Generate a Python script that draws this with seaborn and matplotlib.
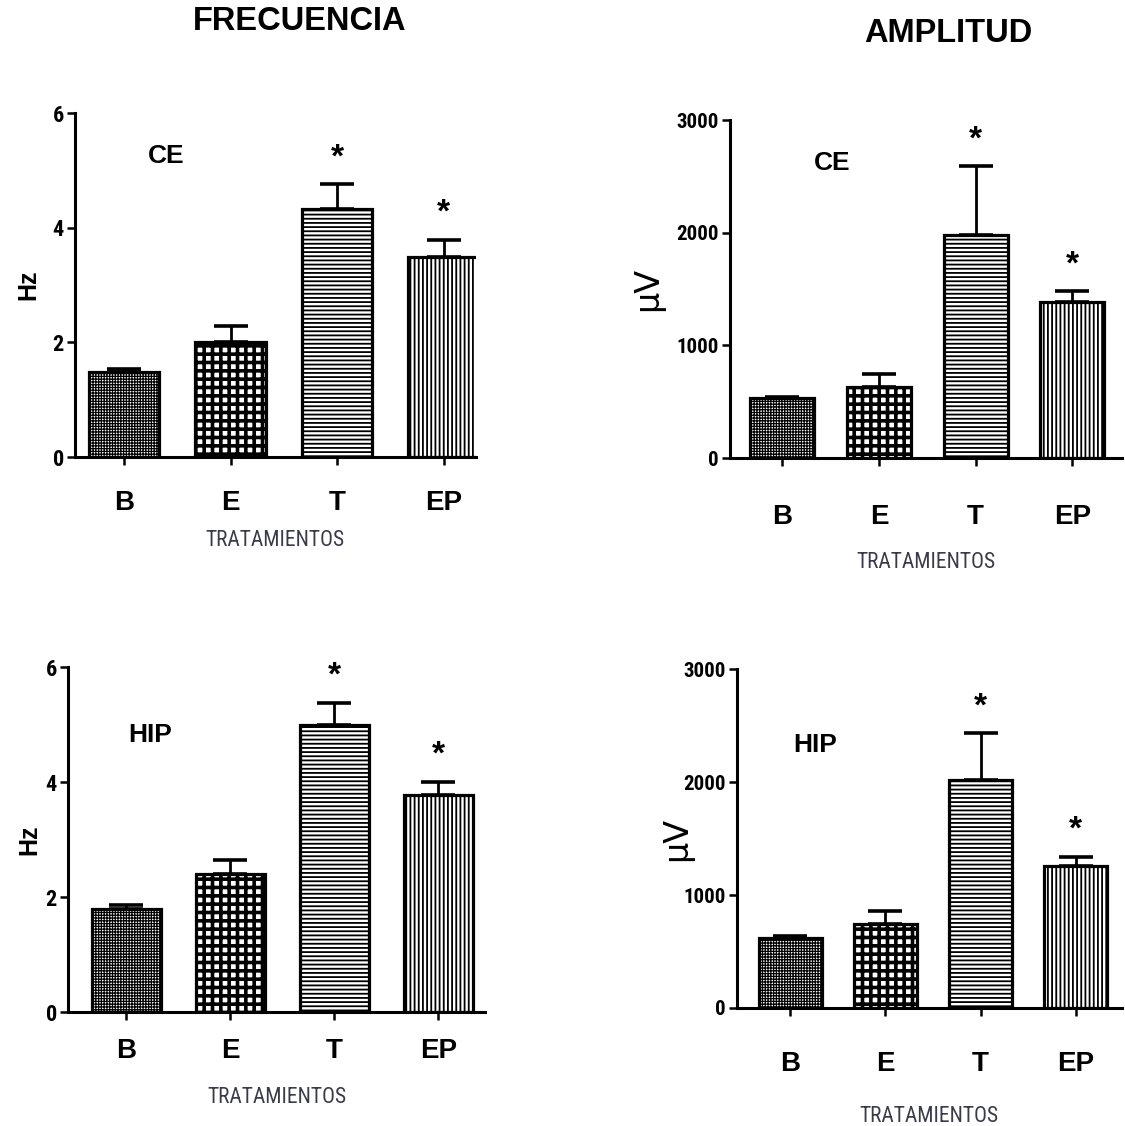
import matplotlib
matplotlib.use("Agg")
import matplotlib.pyplot as plt
from matplotlib import font_manager
import seaborn as sns
import pandas as pd

# ---------------- data ----------------
categories = ["B", "E", "T", "EP"]

freq_ce = [1.48, 2.00, 4.33, 3.49]
freq_ce_err = [0.06, 0.28, 0.43, 0.30]

freq_hip = [1.80, 2.40, 5.00, 3.78]
freq_hip_err = [0.07, 0.25, 0.38, 0.22]

amp_ce = [530, 630, 1980, 1385]
amp_ce_err = [15, 120, 610, 95]

amp_hip = [620, 740, 2015, 1260]
amp_hip_err = [20, 120, 415, 80]

significant = [False, False, True, True]

freq_ticks = [0, 2, 4, 6]
amp_ticks = [0, 1000, 2000, 3000]

# ---------------- style ----------------
sns.set_theme(style="ticks", rc={"text.color": "black", "axes.labelcolor": "black",
                                 "xtick.color": "black", "ytick.color": "black",
                                 "axes.edgecolor": "black"})
avail = {f.name for f in font_manager.fontManager.ttflist}
sans = "Liberation Sans" if "Liberation Sans" in avail else "DejaVu Sans"
narrow = sans
for cand in ["Liberation Sans Narrow", "Roboto Condensed", "DejaVu Sans Condensed",
             "Open Sans Condensed", "Noto Sans Condensed"]:
    if cand in avail:
        narrow = cand
        break
plt.rcParams["font.family"] = [sans, "DejaVu Sans"]
plt.rcParams["hatch.color"] = "black"
plt.rcParams["hatch.linewidth"] = 1.2

hatches = ["++++++", "++", "----", "||||"]
hatch_lw = [0.9, 2.6, 1.3, 1.3]

fig = plt.figure(figsize=(11.25, 11.26), dpi=100)

panels = [
    dict(rect=[0.0667, 0.594, 0.356, 0.3055], vals=freq_ce, errs=freq_ce_err,
         ticks=freq_ticks, ylabel="Hz", tag="CE", tag_xy=(0.40, 5.25),
         xlim=(-0.46, 3.30), ymax=6, ylpad=9, xpad=18, xlpad=10, yts=16),
    dict(rect=[0.649, 0.5932, 0.348, 0.300], vals=amp_ce, errs=amp_ce_err,
         ticks=amp_ticks, ylabel="μV", tag="CE", tag_xy=(0.52, 2620),
         xlim=(-0.54, 3.51), ymax=3000, ylpad=9, xpad=27, xlpad=16, yts=15),
    dict(rect=[0.0604, 0.1012, 0.371, 0.3064], vals=freq_hip, errs=freq_hip_err,
         ticks=freq_ticks, ylabel="Hz", tag="HIP", tag_xy=(0.23, 4.82),
         xlim=(-0.56, 3.45), ymax=6, ylpad=3, xpad=13, xlpad=16, yts=16),
    dict(rect=[0.655, 0.1048, 0.342, 0.301], vals=amp_hip, errs=amp_hip_err,
         ticks=amp_ticks, ylabel="μV", tag="HIP", tag_xy=(0.26, 2330),
         xlim=(-0.56, 3.48), ymax=3000, ylpad=-7, xpad=25, xlpad=21, yts=15),
]

for p in panels:
    ax = fig.add_axes(p["rect"])
    df = pd.DataFrame({"cat": categories, "val": p["vals"]})
    sns.barplot(data=df, x="cat", y="val", ax=ax, order=categories,
                color="white", edgecolor="black", linewidth=2.3,
                width=0.66, errorbar=None, saturation=1)
    for patch, h, hl in zip(ax.patches, hatches, hatch_lw):
        patch.set_facecolor("white")
        patch.set_hatch(h)
        if hasattr(patch, "set_hatch_linewidth"):
            patch.set_hatch_linewidth(hl)
    xs = [pt.get_x() + pt.get_width() / 2 for pt in ax.patches]
    ax.errorbar(xs, p["vals"], yerr=[[0] * 4, p["errs"]], fmt="none",
                ecolor="black", elinewidth=2.0, capsize=12, capthick=2.6, zorder=1)
    for x, v, e, s in zip(xs, p["vals"], p["errs"], significant):
        if s:
            ax.annotate("*", xy=(x, v + e), xytext=(0, 8), textcoords="offset points",
                        ha="center", va="bottom", fontsize=24, fontweight="bold")
    ax.text(p["tag_xy"][0], p["tag_xy"][1], p["tag"], ha="center", va="center",
            fontsize=19, fontweight="bold")
    ax.set_xlim(*p["xlim"])
    ax.set_ylim(0, p["ymax"])
    ax.set_yticks(p["ticks"])
    ax.set_yticklabels([str(t) for t in p["ticks"]], fontfamily=narrow,
                       fontstretch="condensed", fontweight="bold", fontsize=p["yts"])
    ax.set_xticks(range(4))
    ax.set_xticklabels(categories, fontweight="bold", fontsize=20)
    ax.tick_params(axis="x", length=6, width=1.8, pad=p["xpad"], direction="out")
    ax.tick_params(axis="y", length=6, width=1.8, pad=2, direction="out")
    sns.despine(ax=ax)
    for sp in ("left", "bottom"):
        ax.spines[sp].set_linewidth(2.2)
    ax.set_xlabel("TRATAMIENTOS", fontfamily=narrow, fontstretch="condensed",
                  fontsize=15.5, color="#3a3a4a", labelpad=p["xlpad"])
    if p["ylabel"] == "Hz":
        ax.set_ylabel("Hz", fontsize=18, fontweight="bold", labelpad=p["ylpad"])
    else:
        ax.set_ylabel("μV", fontfamily="DejaVu Sans", fontsize=24, labelpad=p["ylpad"])

fig.text(300 / 1125, 1 - 22 / 1126, "FRECUENCIA", ha="center", va="center",
         fontsize=23.5, fontweight="bold")
fig.text(948 / 1125, 1 - 33 / 1126, "AMPLITUD", ha="center", va="center",
         fontsize=23.5, fontweight="bold")

fig.savefig("out.png", dpi=100, facecolor="white")
